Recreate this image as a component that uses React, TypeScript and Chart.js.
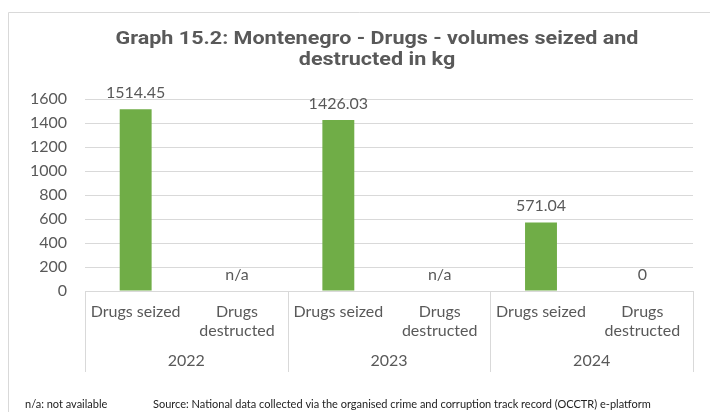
import React, { useEffect, useRef } from "react";
import { Chart, registerables } from "chart.js";

Chart.register(...registerables);

const categories: string[][] = [
  ["Drugs seized"],
  ["Drugs", "destructed"],
  ["Drugs seized"],
  ["Drugs", "destructed"],
  ["Drugs seized"],
  ["Drugs", "destructed"],
];
const years: string[] = ["2022", "2023", "2024"];
const values: (number | null)[] = [1514.45, null, 1426.03, null, 571.04, 0];
const yTicksMax = 1600;
const yTicksStep = 200;
const titleLines: string[] = [
  "Graph 15.2: Montenegro - Drugs - volumes seized and",
  "destructed in kg",
];
const noteText = "n/a: not available";
const sourceText =
  "Source: National data collected via the organised crime and corruption track record (OCCTR) e-platform";

const TEXT = "#595959";
const GRID = "#d9d9d9";
const BAR = "#70AD47";
const FONT = "Lato, 'Open Sans', sans-serif";

const decorPlugin = {
  id: "decor",
  afterDraw(chart: any) {
    const ctx: CanvasRenderingContext2D = chart.ctx;
    const xs = chart.scales.x;
    const ys = chart.scales.y;
    ctx.save();
    // frame
    ctx.strokeStyle = GRID;
    ctx.lineWidth = 1;
    ctx.beginPath();
    ctx.moveTo(8.5, 412);
    ctx.lineTo(8.5, 12.5);
    ctx.lineTo(710, 12.5);
    ctx.stroke();

    // title
    ctx.fillStyle = TEXT;
    ctx.font = "700 19px 'Roboto'";
    ctx.textAlign = "center";
    ctx.textBaseline = "middle";
    titleLines.forEach((t, i) => {
      const w = ctx.measureText(t).width;
      ctx.save();
      ctx.translate(377, 39 + i * 21);
      const target = i === 0 ? 523 : w * (523 / ctx.measureText(titleLines[0]).width);
      ctx.scale(target / w, 1);
      ctx.fillText(t, 0, 0);
      ctx.restore();
    });

    // value labels
    ctx.font = `16px ${FONT}`;
    ctx.fillStyle = TEXT;
    values.forEach((v, i) => {
      const x = xs.getPixelForValue(i);
      const y = ys.getPixelForValue(v === null ? 0 : v);
      ctx.fillText(v === null ? "n/a" : String(v), x, y - 16.5);
    });

    // group separators and years
    const step = xs.getPixelForValue(1) - xs.getPixelForValue(0);
    const bottom = chart.chartArea.bottom;
    ctx.strokeStyle = GRID;
    ctx.beginPath();
    for (let g = 0; g <= years.length; g++) {
      const bx = Math.round(xs.getPixelForValue(g * 2) - step / 2) + 0.5;
      ctx.moveTo(bx, bottom);
      ctx.lineTo(bx, bottom + 81);
    }
    ctx.stroke();
    ctx.fillStyle = TEXT;
    ctx.font = `16px ${FONT}`;
    years.forEach((yr, g) => {
      const cx = (xs.getPixelForValue(g * 2) + xs.getPixelForValue(g * 2 + 1)) / 2;
      ctx.fillText(yr, cx, bottom + 70);
    });

    // footer
    ctx.fillStyle = "#222";
    ctx.font = `11px ${FONT}`;
    ctx.textAlign = "left";
    ctx.fillText(noteText, 25, 404, 86);
    ctx.fillText(sourceText, 153, 404, 552);
    ctx.restore();
  },
};

export default function App() {
  const ref = useRef<HTMLCanvasElement | null>(null);
  useEffect(() => {
    if (!ref.current) return;
    const chart = new Chart(ref.current, {
      type: "bar",
      data: {
        labels: categories,
        datasets: [
          {
            data: values as any,
            backgroundColor: BAR,
            borderWidth: 0,
            categoryPercentage: 1,
            barPercentage: 0.315,
          },
        ],
      },
      options: {
        animation: false,
        responsive: false,
        devicePixelRatio: 1,
        layout: { padding: { left: 0, right: 17, top: 99, bottom: 0 } },
        plugins: {
          legend: { display: false },
          title: { display: false },
          tooltip: { enabled: false },
        },
        scales: {
          x: {
            grid: { display: false },
            border: { display: false },
            ticks: {
              color: TEXT,
              font: { family: FONT, size: 16, lineHeight: 1.2 },
              padding: 3,
              maxRotation: 0,
              minRotation: 0,
              autoSkip: false,
            },
            afterFit: (s: any) => {
              s.height = 121;
            },
          },
          y: {
            min: 0,
            max: yTicksMax,
            ticks: {
              stepSize: yTicksStep,
              color: TEXT,
              font: { family: FONT, size: 16 },
              padding: 18,
              callback: (v: any) => String(v),
            },
            grid: { color: GRID, drawTicks: false, lineWidth: 1 },
            border: { display: false },
            afterFit: (s: any) => {
              s.width = 85;
            },
          },
        },
      },
      plugins: [decorPlugin],
    });
    return () => chart.destroy();
  }, []);
  return (
    <div style={{ position: "absolute", left: 0, top: 0, width: 710, height: 412, background: "#fff" }}>
      <canvas ref={ref} width={710} height={412} style={{ display: "block", width: 710, height: 412 }} />
    </div>
  );
}
